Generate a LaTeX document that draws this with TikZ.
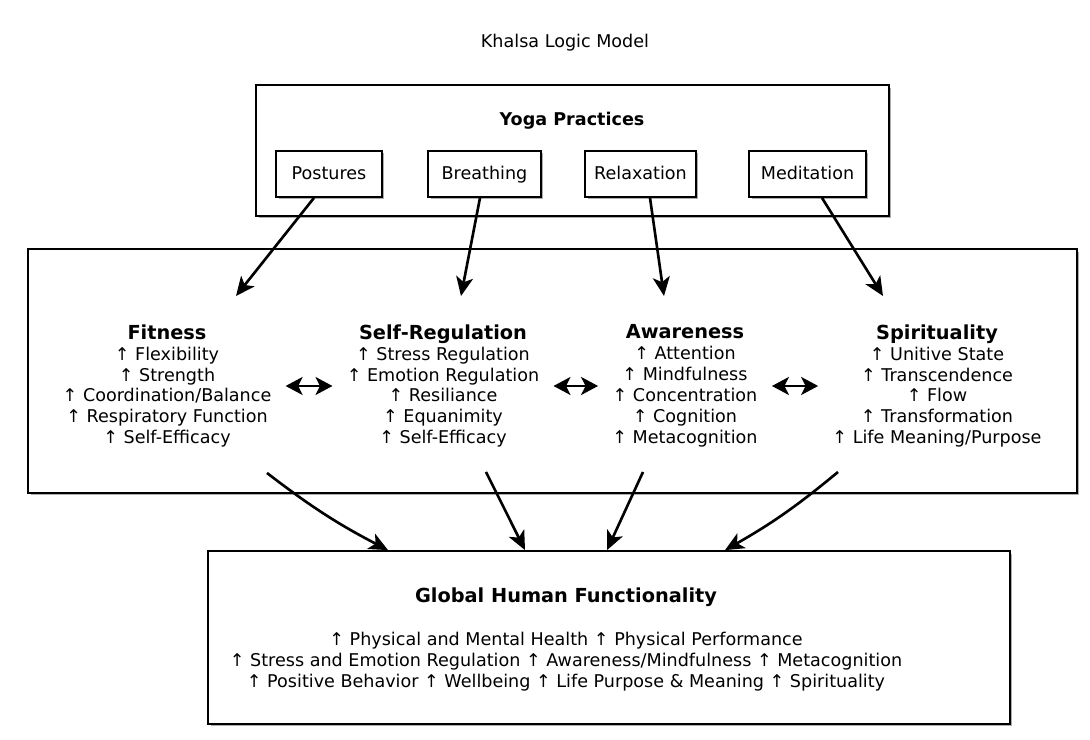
\documentclass[tikz,border=0pt]{standalone}
\usepackage{fontspec}
\setmainfont{DejaVu Sans}
\usetikzlibrary{arrows.meta,shadows}

\begin{document}
\begin{tikzpicture}[x=0.02cm, y=0.02cm,
  boxed/.style={draw, line width=1pt, fill=white,
    drop shadow={shadow xshift=0.05cm, shadow yshift=-0.05cm, fill=black!40, opacity=0.8}},
  practice/.style={boxed, minimum height=0.92cm, text height=1.6ex, text depth=0.4ex,
    font=\fontsize{10}{12}\selectfont},
  effect/.style={align=center, inner sep=0pt, font=\fontsize{10}{11.9}\selectfont},
  arr/.style={line width=1.5pt, -{Stealth[length=0.38cm, width=0.34cm, inset=0.1cm]}},
  dblarr/.style={line width=1.5pt,
    {Stealth[length=0.34cm, width=0.36cm, inset=0.09cm]}-{Stealth[length=0.34cm, width=0.36cm, inset=0.09cm]},
    shorten <=0.28cm, shorten >=0.28cm}]
\useasboundingbox (0,0) rectangle (1090,740);

\node[font=\fontsize{10}{12}\selectfont] (title) at (565,697) {Khalsa Logic Model};

% practices
\node[boxed, minimum width=12.66cm, minimum height=2.62cm] (yoga) at (572.5,589.5) {};
\node[font=\fontsize{10}{12}\selectfont\bfseries] (yogatitle) at (572,619) {Yoga Practices};
\node[practice, minimum width=2.12cm] (postures) at (329,566) {Postures};
\node[practice, minimum width=2.26cm] (breathing) at (484.5,566) {Breathing};
\node[practice, minimum width=2.22cm] (relaxation) at (640.5,566) {Relaxation};
\node[practice, minimum width=2.34cm] (meditation) at (807.5,566) {Meditation};

% effects
\node[boxed, minimum width=20.98cm, minimum height=4.88cm] (effects) at (552.5,369) {};
\node[effect] (fitness) at (167,354) {\textbf{\fontsize{11}{13}\selectfont Fitness}\\
  ↑ Flexibility\\ ↑ Strength\\ ↑ Coordination/Balance\\ ↑ Respiratory Function\\ ↑ Self-Efficacy};
\node[effect] (selfreg) at (443,354) {\textbf{\fontsize{11}{13}\selectfont Self-Regulation}\\
  ↑ Stress Regulation\\ ↑ Emotion Regulation\\ ↑ Resiliance\\ ↑ Equanimity\\ ↑ Self-Efficacy};
\node[effect] (aware) at (685,354) {\textbf{\fontsize{11}{13}\selectfont Awareness}\\
  ↑ Attention\\ ↑ Mindfulness\\ ↑ Concentration\\ ↑ Cognition\\ ↑ Metacognition};
\node[effect] (spirit) at (937,354) {\textbf{\fontsize{11}{13}\selectfont Spirituality}\\
  ↑ Unitive State\\ ↑ Transcendence\\ ↑ Flow\\ ↑ Transformation\\ ↑ Life Meaning/Purpose};

\coordinate (fitin) at (236,444);
\coordinate (selfin) at (461,444);
\coordinate (awarein) at (664,444);
\coordinate (spiritin) at (883,444);
\coordinate (fitout) at (267,267);
\coordinate (selfout) at (486,268);
\coordinate (awareout) at (643,268);
\coordinate (spiritout) at (838,268);

% outcome
\node[boxed, minimum width=16.04cm, minimum height=3.46cm] (ghf) at (609,102.5) {};
\node[font=\fontsize{11}{13}\selectfont\bfseries] (ghftitle) at (566,143) {Global Human Functionality};
\node[effect] (ghflines) at (566,78) {↑ Physical and Mental Health ↑ Physical Performance\\
  ↑ Stress and Emotion Regulation ↑ Awareness/Mindfulness ↑ Metacognition\\
  ↑ Positive Behavior ↑ Wellbeing ↑ Life Purpose \& Meaning ↑ Spirituality};

\draw[arr] ([xshift=-0.3cm]postures.south) -- (fitin);
\draw[arr] ([xshift=-0.09cm]breathing.south) -- (selfin);
\draw[arr] ([xshift=0.19cm]relaxation.south) -- (awarein);
\draw[arr] ([xshift=0.29cm]meditation.south) -- (spiritin);

\draw[dblarr] (fitness) -- (selfreg);
\draw[dblarr] (selfreg) -- (aware);
\draw[dblarr] (aware) -- (spirit);

\draw[arr] (fitout) to[bend right=5] ([xshift=-4.42cm]ghf.north);
\draw[arr] (selfout) -- ([xshift=-1.68cm]ghf.north);
\draw[arr] (awareout) -- ([xshift=-0.04cm]ghf.north);
\draw[arr] (spiritout) to[bend left=5] ([xshift=2.32cm]ghf.north);
\end{tikzpicture}
\end{document}
